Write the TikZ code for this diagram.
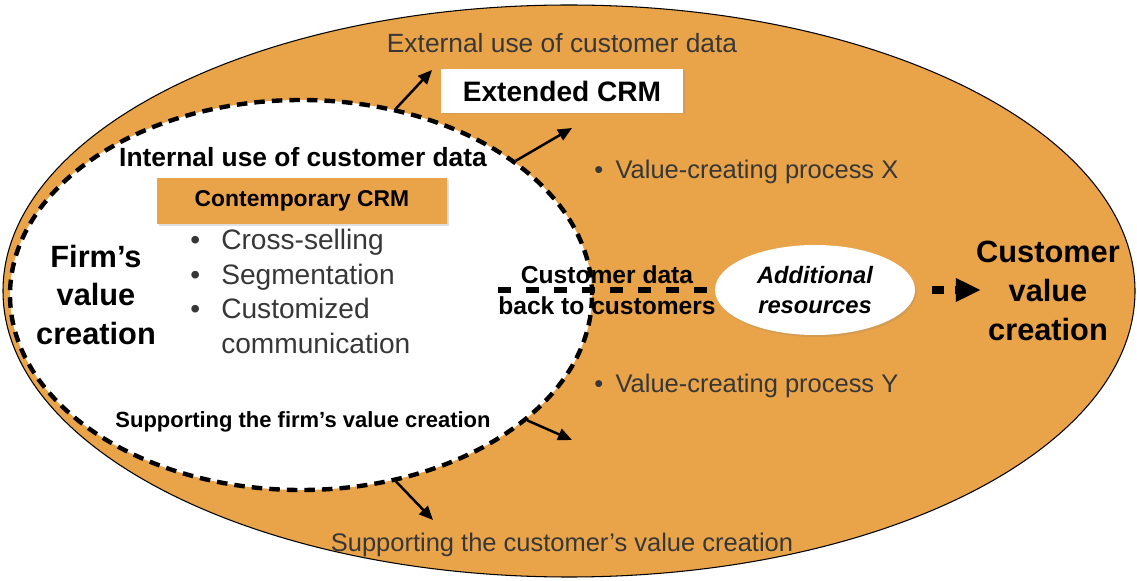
\documentclass[tikz,border=0pt]{standalone}
\usepackage{fontspec}
\setmainfont{Liberation Sans}
\usetikzlibrary{arrows.meta,shapes.geometric,shadows}
\definecolor{crmorange}{RGB}{233,163,72}
\definecolor{softtext}{RGB}{55,55,55}
\tikzset{
  zone/.style={ellipse,draw,inner sep=0pt},
  light/.style={text=softtext,inner sep=0pt,font=\fontsize{14.5}{17}\selectfont},
  heavy/.style={inner sep=0pt,align=center,font=\bfseries\fontsize{17.5}{22}\selectfont},
  usearrow/.style={-{Triangle[length=0.28cm,width=0.24cm]},line width=1.4pt},
  datadash/.style={line width=0.13cm,dash pattern=on 0.26cm off 0.3cm},
}
\begin{document}
\begin{tikzpicture}
\useasboundingbox (0,0) rectangle (22.74,11.6);
% the two zones
\node[zone,fill=crmorange,line width=0.6pt,minimum width=22.64cm,minimum height=11.44cm] (outer) at (11.38,5.78) {};
\node[zone,fill=white,line width=2.5pt,dash pattern=on 6pt off 4pt,minimum width=11.64cm,minimum height=7.8cm] (firmzone) at (6.02,5.7) {};

% customer side
\node[light,font=\fontsize{15}{18}\selectfont] (external) at (11.24,10.74) {External use of customer data};
\node[fill=white,minimum width=4.84cm,minimum height=0.88cm,font=\bfseries\fontsize{16}{19}\selectfont,drop shadow={opacity=0.2,shadow xshift=0.03cm,shadow yshift=-0.03cm}] (extcrm) at (11.24,9.78) {Extended CRM};
\node[light,anchor=west] (procx) at (11.88,8.16) {\textbullet\hspace{7pt}Value-creating process X};
\node[light,anchor=west] (procy) at (11.88,3.88) {\textbullet\hspace{7pt}Value-creating process Y};
\node[light] (supcust) at (11.24,0.7) {Supporting the customer’s value creation};
\node[zone,fill=white,draw=none,minimum width=4cm,minimum height=1.8cm,align=center,font=\bfseries\itshape\fontsize{13.5}{17.6}\selectfont,drop shadow={opacity=0.2,shadow xshift=0.03cm,shadow yshift=-0.04cm}] (res) at (16.3,5.8) {Additional\\resources};
\node[heavy] (custvalue) at (20.96,5.78) {Customer\\value\\creation};

% firm side
\node[inner sep=0pt,font=\bfseries\fontsize{15}{18}\selectfont] (internal) at (6.06,8.46) {Internal use of customer data};
\node[fill=crmorange,minimum width=5.8cm,minimum height=0.92cm,font=\bfseries\fontsize{13}{16}\selectfont,drop shadow={opacity=0.25,shadow xshift=0.04cm,shadow yshift=-0.04cm}] (contcrm) at (6.04,7.58) {Contemporary CRM};
\node[anchor=west,inner sep=0pt,text=softtext,font=\fontsize{16}{19.6}\selectfont] (uses) at (3.8,5.71) {%
  \begin{tabular}{@{}l@{\hspace{12pt}}l@{}}
  \textbullet & Cross-selling\\
  \textbullet & Segmentation\\
  \textbullet & Customized\\
              & communication
  \end{tabular}};
\node[heavy] (firmvalue) at (1.92,5.7) {Firm’s\\value\\creation};
\node[inner sep=0pt,font=\bfseries\fontsize{12.5}{15}\selectfont] (supfirm) at (6.06,3.16) {Supporting the firm’s value creation};
\node[inner sep=0pt,align=center,font=\bfseries\fontsize{14}{17.6}\selectfont] (backdata) at (12.14,5.8) {Customer data\\back to customers};

% connectors
\coordinate (toext) at (8.64,10.2);
\coordinate (toprocx) at (11.44,9.04);
\coordinate (toprocy) at (11.44,2.8);
\coordinate (tosupcust) at (8.66,1.2);
\draw[usearrow] (firmzone.63.6) -- (toext);
\draw[usearrow] (firmzone.32.9) -- (toprocx);
\draw[usearrow] (firmzone.-29.2) -- (toprocy);
\draw[usearrow] (firmzone.-63.6) -- (tosupcust);
\draw[datadash] (backdata.west) -- (res.west);
\draw[line width=0.16cm,dash pattern=on 0.24cm off 0.22cm,-{Triangle[length=0.5cm,width=0.44cm]},shorten <=0.34cm,shorten >=-0.1cm] (res.east) -- (res.east -| custvalue.west);
\end{tikzpicture}
\end{document}
